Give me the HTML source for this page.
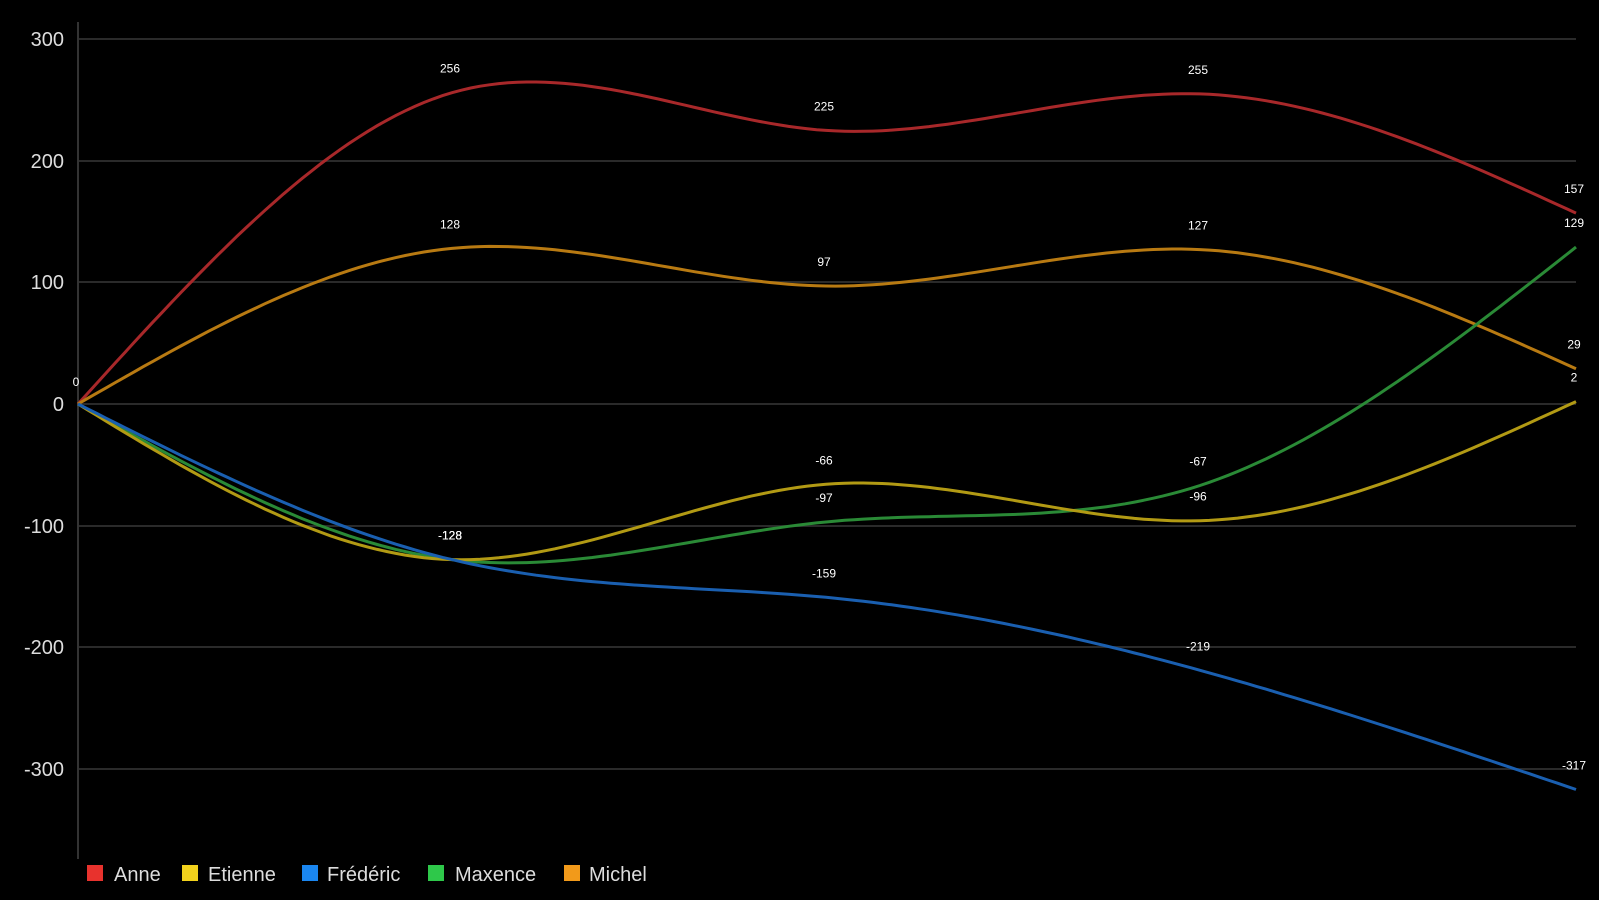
<!DOCTYPE html>
<html><head><meta charset="utf-8"><style>
html,body{margin:0;padding:0;background:#000;}
svg{display:block;font-family:"Liberation Sans",sans-serif;}
</style></head><body>
<svg id="c" width="1599" height="900" viewBox="0 0 1599 900" xmlns="http://www.w3.org/2000/svg">
<rect width="1599" height="900" fill="#000"/>
<g stroke="#2a2a2a" stroke-width="2">
<line x1="78" x2="1576" y1="39" y2="39"/><line x1="78" x2="1576" y1="161" y2="161"/>
<line x1="78" x2="1576" y1="282" y2="282"/><line x1="78" x2="1576" y1="404" y2="404"/>
<line x1="78" x2="1576" y1="526" y2="526"/><line x1="78" x2="1576" y1="647" y2="647"/>
<line x1="78" x2="1576" y1="769" y2="769"/>
</g>
<line x1="78" x2="78" y1="22" y2="859" stroke="#333" stroke-width="2"/>
<g fill="#ddd" font-size="20" text-anchor="end">
<text x="64" y="46">300</text><text x="64" y="168">200</text><text x="64" y="289">100</text>
<text x="64" y="411">0</text><text x="64" y="533">-100</text><text x="64" y="654">-200</text><text x="64" y="776">-300</text>
</g>
<g id="series"></g>
<g id="labels" fill="#fff" font-size="12" text-anchor="middle"></g>
<g font-size="20" fill="#ddd">
<rect x="87" y="865" width="16" height="16" fill="#e8322d"/><text x="114" y="881">Anne</text>
<rect x="182" y="865" width="16" height="16" fill="#f2d21c"/><text x="208" y="881">Etienne</text>
<rect x="302" y="865" width="16" height="16" fill="#1a86f0"/><text x="327" y="881">Frédéric</text>
<rect x="428" y="865" width="16" height="16" fill="#2ec84a"/><text x="455" y="881">Maxence</text>
<rect x="564" y="865" width="16" height="16" fill="#f29a1a"/><text x="589" y="881">Michel</text>
</g>
</svg>
<script>
var xs=[78,452,826,1200,1576];
function Y(v){return 404-v*1.216;}
var S=[
 {c:"#a8282a",d:[0,256,225,255,157]},
 {c:"#b87a12",d:[0,128,97,127,29]},
 {c:"#2a8a36",d:[0,-128,-97,-67,129]},
 {c:"#b29a14",d:[0,-128,-66,-96,2]},
 {c:"#1a5fb0",d:[0,-128,-159,-219,-317]}
];
function spline(x,y){var n=x.length-1,h=[],a=[],l=[1],mu=[0],z=[0],c=[],b=[],d=[];
for(var i=0;i<n;i++)h[i]=x[i+1]-x[i];
for(i=1;i<n;i++)a[i]=3/h[i]*(y[i+1]-y[i])-3/h[i-1]*(y[i]-y[i-1]);
for(i=1;i<n;i++){l[i]=2*(x[i+1]-x[i-1])-h[i-1]*mu[i-1];mu[i]=h[i]/l[i];z[i]=(a[i]-h[i-1]*z[i-1])/l[i];}
c[n]=0;for(var j=n-1;j>=0;j--){c[j]=(j==0?0:z[j])-mu[j]*c[j+1];b[j]=(y[j+1]-y[j])/h[j]-h[j]*(c[j+1]+2*c[j])/3;d[j]=(c[j+1]-c[j])/(3*h[j]);}
var p="M"+x[0]+","+y[0];
for(i=0;i<n;i++){for(var t=1;t<=40;t++){var dx=h[i]*t/40;p+="L"+(x[i]+dx).toFixed(1)+","+(y[i]+b[i]*dx+c[i]*dx*dx+d[i]*dx*dx*dx).toFixed(1);}}
return p;}
var g=document.getElementById("series"),L=document.getElementById("labels"),ns="http://www.w3.org/2000/svg";
S.forEach(function(s){var ys=s.d.map(Y);var p=document.createElementNS(ns,"path");
p.setAttribute("d",spline(xs,ys));p.setAttribute("fill","none");p.setAttribute("stroke",s.c);p.setAttribute("stroke-width","3");g.appendChild(p);
for(var i=1;i<5;i++){var t=document.createElementNS(ns,"text");t.setAttribute("x",xs[i]-2);t.setAttribute("y",ys[i]-20);t.textContent=s.d[i];L.appendChild(t);}});
var t=document.createElementNS(ns,"text");t.setAttribute("x",76);t.setAttribute("y",386);t.textContent="0";L.appendChild(t);
</script>
</body></html>
